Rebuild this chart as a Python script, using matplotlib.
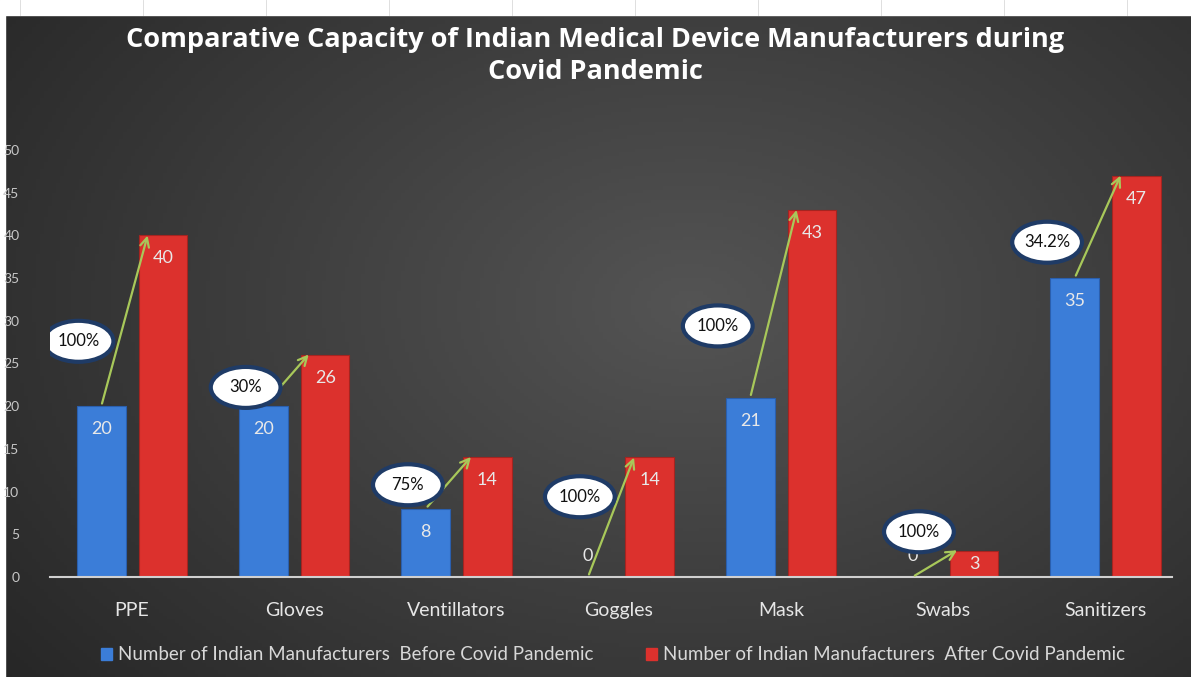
import numpy as np
import matplotlib.pyplot as plt
from matplotlib.patches import Ellipse, Patch
from matplotlib.colors import LinearSegmentedColormap

plt.rcParams['font.family'] = ['Lato', 'DejaVu Sans']

categories = ['PPE', 'Gloves', 'Ventillators', 'Goggles', 'Mask', 'Swabs', 'Sanitizers']
before = [20, 20, 8, 0, 21, 0, 35]
after = [40, 26, 14, 14, 43, 3, 47]
growth = ['100%', '30%', '75%', '100%', '100%', '100%', '34.2%']
# where each growth bubble sits (category units, value units)
bubble_x = [-0.33, 0.70, 1.70, 2.76, 3.61, 4.85, 5.64]
bubble_y = [27.6, 22.2, 10.8, 9.4, 29.4, 5.3, 39.2]
label_before = 'Number of Indian Manufacturers  Before Covid Pandemic'
label_after = 'Number of Indian Manufacturers  After Covid Pandemic'

W, H = 1191, 677
fig = plt.figure(figsize=(W/100, H/100), dpi=100)

# background gradient
bg = fig.add_axes([0, 0, 1, 1], zorder=-10)
yy, xx = np.mgrid[0:1:200j, 0:1:300j]
r = np.sqrt(((xx-0.58)/0.75)**2 + ((yy-0.55)/0.9)**2)
cm = LinearSegmentedColormap.from_list('bg', ['#262626', '#545454'])
bg.imshow(np.clip(1-r, 0, 1), cmap=cm, vmin=0, vmax=1, aspect='auto',
          extent=[0, 1, 0, 1], origin='lower')
bg.axhspan(1-15/H, 1, color='white')
bg.axvspan(0, 5/W, color='white')
for gx in np.arange(20, W, 123):
    bg.plot([gx/W, gx/W], [1-15/H, 1], color='#d9d9d9', lw=0.6)
bg.set_xlim(0, 1); bg.set_ylim(0, 1)
bg.axis('off')

ax = fig.add_axes([50/W, 100/H, (1172-50)/W, (577-150)/H])
ax.patch.set_alpha(0)
x = np.arange(len(categories))
w = 0.30
off = 0.19
ax.bar(x-off, before, w, color='#3b7dd8', edgecolor='#2a5fae', lw=0.8, zorder=2)
ax.bar(x+off, after, w, color='#dc312d', edgecolor='#a52420', lw=0.8, zorder=2)

for i in range(len(categories)):
    for xv, v in ((x[i]-off, before[i]), (x[i]+off, after[i])):
        ty = 2.5 if v == 0 else max(v-2.7, v/2)
        ax.text(xv, ty, str(v), ha='center', va='center', fontsize=13,
                color='#e8e8e8', zorder=4)
    ax.annotate('', xy=(x[i]+off-0.09, after[i]+0.3), xytext=(x[i]-off, before[i]),
                arrowprops=dict(arrowstyle='->', color='#a8c85a', lw=1.6,
                                mutation_scale=16), zorder=5)
    ax.add_patch(Ellipse((bubble_x[i], bubble_y[i]), 0.43, 4.8, facecolor='white',
                         edgecolor='#1f3b66', lw=3, zorder=6))
    ax.text(bubble_x[i], bubble_y[i], growth[i], ha='center', va='center',
            fontsize=12, color='#111111', zorder=7)

ax.set_xlim(-0.506, 6.41)
ax.set_ylim(0, 50)
ax.set_yticks(range(0, 51, 5))
ax.set_xticks(x)
ax.set_xticklabels(categories, fontsize=14, color='#e6e6e6')
ax.tick_params(axis='x', length=0, pad=18)
ax.tick_params(axis='y', length=0, pad=22, labelsize=10, labelcolor='#c8c8c8')
for s in ['top', 'right', 'left']:
    ax.spines[s].set_visible(False)
ax.spines['bottom'].set_color('#d0d0d0')
ax.spines['bottom'].set_linewidth(1.5)

fig.text(0.5, 1-40/H, 'Comparative Capacity of Indian Medical Device Manufacturers during',
         ha='center', va='center', fontsize=19.5, fontweight='bold', color='white',
         family=['Open Sans', 'DejaVu Sans'])
fig.text(0.5, 1-72/H, 'Covid Pandemic', ha='center', va='center', fontsize=19.5,
         fontweight='bold', color='white', family=['Open Sans', 'DejaVu Sans'])

handles = [Patch(color='#3b7dd8'), Patch(color='#dc312d')]
fig.legend(handles, [label_before, label_after], ncol=2, loc='center',
           bbox_to_anchor=(613/W, 1-655/H), frameon=False, handlelength=0.6,
           handleheight=0.6, handletextpad=0.3, columnspacing=2.8, fontsize=13.5,
           labelcolor='#d8d8d8')

fig.savefig('out.png', dpi=100)
